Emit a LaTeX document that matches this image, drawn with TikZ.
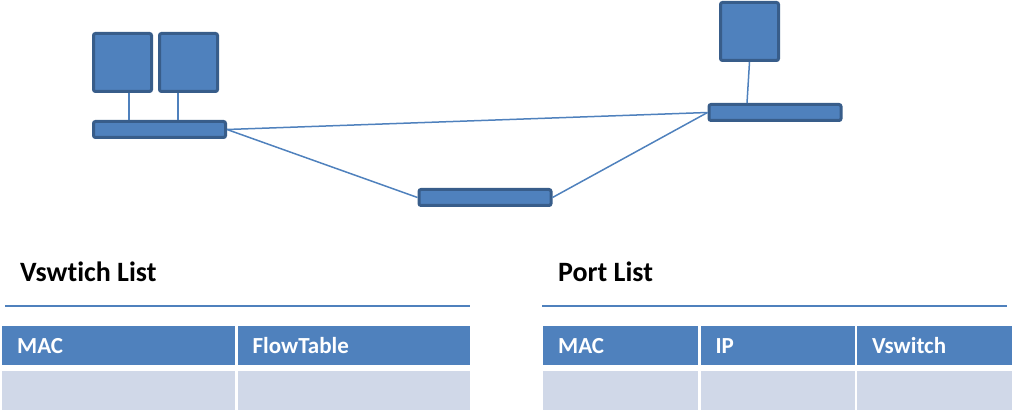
\documentclass[tikz,border=0pt]{standalone}
\usepackage{fontspec}
\setmainfont{Carlito}[RawFeature=-liga]
\usetikzlibrary{positioning}

\definecolor{boxblue}{HTML}{4F81BD}
\definecolor{boxedge}{HTML}{385D8A}
\definecolor{rowfill}{HTML}{D0D8E8}

\tikzset{
  host/.style={draw=boxedge, fill=boxblue, line width=3pt, rounded corners=2pt,
    minimum width=58pt, minimum height=58pt, inner sep=0pt},
  vswitch/.style={host, minimum width=132pt, minimum height=16pt},
  link/.style={draw=boxblue, line width=1.5pt},
  listtitle/.style={anchor=base west, inner sep=0pt,
    font=\bfseries\fontsize{28}{32}\selectfont},
  headcell/.style={fill=boxblue, text=white, align=left, text width=#1,
    inner xsep=15pt, inner ysep=0pt, minimum height=39pt,
    font=\bfseries\fontsize{23}{26}\selectfont},
  bodycell/.style={fill=rowfill, minimum width=#1, minimum height=39pt, inner sep=0pt},
}

\begin{document}
\begin{tikzpicture}[x=1pt, y=-1pt]
  \useasboundingbox (0,0) rectangle (1012,411);

  % Network
  \node[host] (hostA) at (122.5,62.5) {}; %
  \node[host, right=5pt of hostA] (hostB) {}; %
  \node[vswitch, below=27pt of hostA.south west, anchor=north west] (swA) {}; %
  \node[host] (hostC) at (749.5,31.5) {}; %
  \node[vswitch] (swC) at (775,112.5) {}; %
  \node[vswitch] (swB) at (485,197.5) {}; %

  \draw[link] ([xshift=6.5pt]hostA.south) -- ([xshift=6.5pt]hostA.south |- swA.north); %
  \draw[link] ([xshift=-10.5pt]hostB.south) -- ([xshift=-10.5pt]hostB.south |- swA.north); %
  \draw[link] (hostC.south) -- ([xshift=-28pt]swC.north); %
  \draw[link] (swA.east) -- (swC.west); %
  \draw[link] (swA.east) -- (swB.west); %
  \draw[link] (swB.east) -- (swC.west); %

  % Vswitch list
  \node[listtitle] (vsTitle) at (20,282) {Vswtich List}; %
  \draw[link] (5,306) -- (470,306); %
  \node[headcell=203pt, anchor=north west] (vsMac) at (2,326) {MAC}; %
  \node[headcell=202pt, right=2pt of vsMac] (vsFlow) {FlowTable}; %
  \node[bodycell=233pt, below=5pt of vsMac] (vsMacRow) {}; %
  \node[bodycell=232pt, below=5pt of vsFlow] (vsFlowRow) {}; %

  % Port list
  \node[listtitle] (ptTitle) at (558,282) {Port List}; %
  \draw[link] (542,306) -- (1007,306); %
  \node[headcell=125pt, anchor=north west] (ptMac) at (543,326) {MAC}; %
  \node[headcell=124pt, right=2pt of ptMac] (ptIp) {IP}; %
  \node[headcell=126pt, right=2pt of ptIp] (ptSw) {Vswitch}; %
  \node[bodycell=155pt, below=5pt of ptMac] (ptMacRow) {}; %
  \node[bodycell=154pt, below=5pt of ptIp] (ptIpRow) {}; %
  \node[bodycell=156pt, below=5pt of ptSw] (ptSwRow) {}; %
\end{tikzpicture}
\end{document}
